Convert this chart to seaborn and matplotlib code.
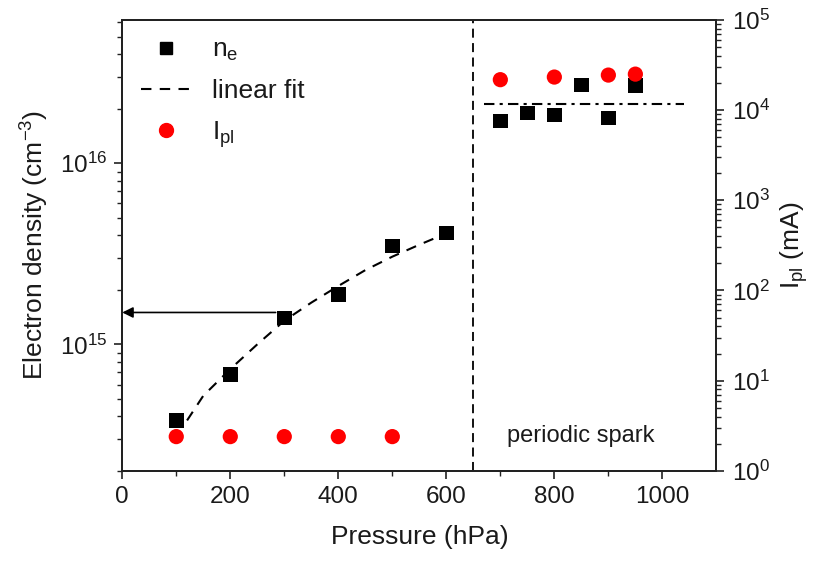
import numpy as np
import pandas as pd
import matplotlib.pyplot as plt
import seaborn as sns
from matplotlib.lines import Line2D

# Datos
p_glow = [100, 200, 300, 400, 500, 600]
ne_glow = [3.8e14, 6.8e14, 1.40e15, 1.89e15, 3.5e15, 4.12e15]
p_spark = [700, 750, 800, 850, 900, 950]
ne_spark = [1.71e16, 1.90e16, 1.85e16, 2.71e16, 1.78e16, 2.68e16]

fit_p = [120, 150, 200, 250, 300, 350, 400, 450, 500, 550, 600]
fit_ne = [3.8e14, 5.2e14, 7.3e14, 1.0e15, 1.35e15, 1.7e15, 2.1e15, 2.57e15, 3.05e15, 3.55e15, 4.1e15]

# media en la zona de chispa periodica
spark_fit_p = [670, 1040]
spark_fit_ne = [2.13e16, 2.13e16]

ipl_p = [100, 200, 300, 400, 500, 700, 800, 900, 950]
ipl = [2.4, 2.4, 2.4, 2.4, 2.4, 2.17e4, 2.32e4, 2.44e4, 2.5e4]

p_limite = 650
flecha_ne = 1.5e15
flecha_p = 284

df_ne = pd.DataFrame({'p': p_glow + p_spark, 'ne': ne_glow + ne_spark})
df_fit = pd.DataFrame({'p': fit_p, 'ne': fit_ne})
df_spark = pd.DataFrame({'p': spark_fit_p, 'ne': spark_fit_ne})
df_ipl = pd.DataFrame({'p': ipl_p, 'ipl': ipl})

sns.set_style("ticks")
plt.rcParams['font.family'] = ['Liberation Sans', 'DejaVu Sans']
plt.rcParams['mathtext.fontset'] = 'custom'
plt.rcParams['mathtext.rm'] = 'Liberation Sans'
plt.rcParams['mathtext.it'] = 'Liberation Sans'
plt.rcParams['text.color'] = '#1a1a1a'
plt.rcParams['axes.labelcolor'] = '#1a1a1a'
plt.rcParams['xtick.labelcolor'] = '#1a1a1a'
plt.rcParams['ytick.labelcolor'] = '#1a1a1a'

fig = plt.figure(figsize=(8.15, 5.66), dpi=100)
ax = fig.add_axes([0.150, 0.168, 0.729, 0.797])
ax2 = ax.twinx()

# Curvas de n_e
sns.lineplot(data=df_fit, x='p', y='ne', ax=ax, color='black', lw=1.5)
ax.lines[-1].set_dashes((5, 4))
sns.lineplot(data=df_spark, x='p', y='ne', ax=ax, color='black', lw=1.5)
ax.lines[-1].set_dashes((5, 2.5, 1.5, 2.5))
sns.scatterplot(data=df_ne, x='p', y='ne', ax=ax, marker='s', color='black', s=110, edgecolor='none', zorder=3)

ax.axvline(p_limite, color='black', lw=1.3, dashes=(5, 3))

# flecha hacia el eje izquierdo
ax.annotate('', xy=(0, flecha_ne), xytext=(flecha_p, flecha_ne),
            arrowprops=dict(arrowstyle='-|>', color='black', lw=1.2, mutation_scale=16, shrinkA=0, shrinkB=0))

# Corriente I_pl
sns.scatterplot(data=df_ipl, x='p', y='ipl', ax=ax2, marker='o', color='red', s=120, edgecolor='none')

ax.set_yscale('log')
ax2.set_yscale('log')
ax.set_xlim(0, 1100)
ax.set_ylim(2e14, 6.2e16)
ax2.set_ylim(1, 1e5)

ax.set_xticks([0, 200, 400, 600, 800, 1000])
ax.set_xticks(np.arange(100, 1100, 200), minor=True)

ax.set_xlabel('Pressure (hPa)', fontsize=19, labelpad=12)
ax.set_ylabel('Electron density (cm$^{-3}$)', fontsize=19, labelpad=6)
ax2.set_ylabel('I$_{pl}$ (mA)', fontsize=19, labelpad=6)

for a in (ax, ax2):
    a.tick_params(axis='both', which='major', labelsize=17.5, length=6, width=1.2, color='#222222', pad=5)
    a.tick_params(axis='both', which='minor', length=3.5, width=1.0, color='#222222')
    for s in a.spines.values():
        s.set_linewidth(1.4)
        s.set_color('#222222')
ax.tick_params(top=False, right=False, which='both')

ax.text(0.771, 0.078, 'periodic spark', transform=ax.transAxes, fontsize=17, ha='center', va='center')

handles = [Line2D([], [], marker='s', color='black', ls='none', markersize=9),
           Line2D([], [], color='black', lw=1.5, dashes=(5, 4)),
           Line2D([], [], marker='o', color='red', ls='none', markersize=10)]
ax.legend(handles, ['n$_e$', 'linear fit', 'I$_{pl}$'], loc='upper left', frameon=False,
          fontsize=19, labelspacing=0.6, handlelength=1.9, handletextpad=0.8,
          borderaxespad=0.4, borderpad=0.3)

fig.savefig('out.png', dpi=100)
